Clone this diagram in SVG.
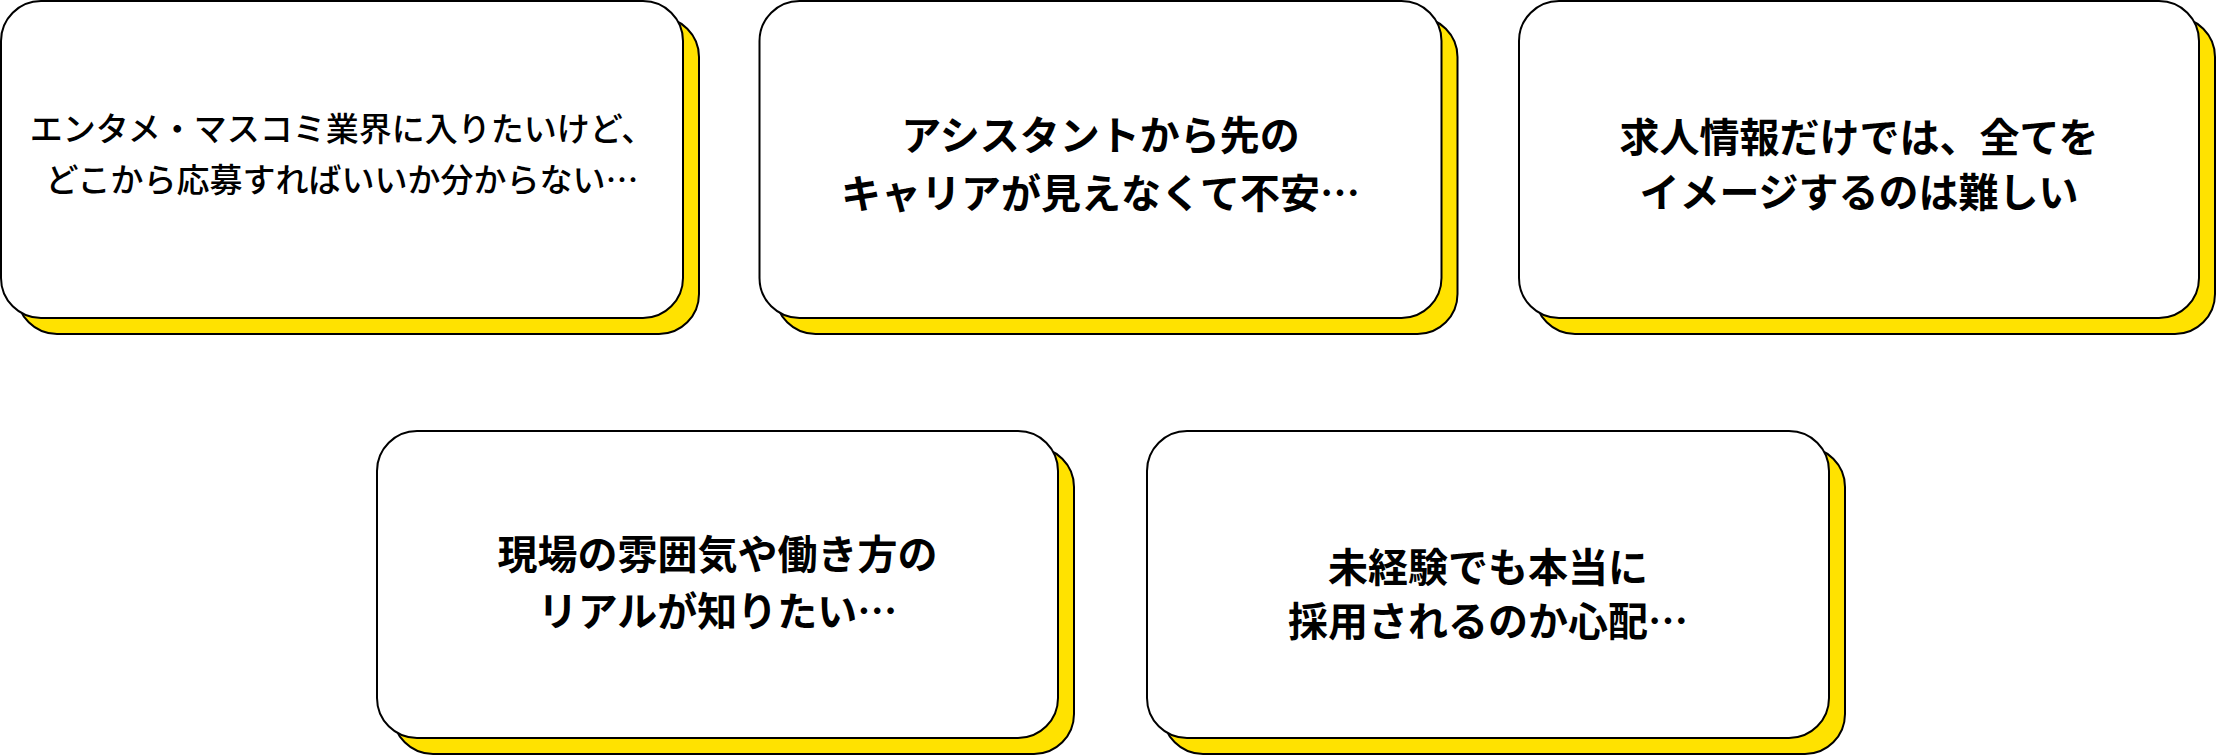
<svg xmlns="http://www.w3.org/2000/svg" width="2216" height="756" viewBox="0 0 2216 756">
  <style>
    .shadow { fill: #FFE200; stroke: #000; stroke-width: 2; }
    .card { fill: #fff; stroke: #000; stroke-width: 2; }
    .t { font-family: "Noto Sans CJK JP", "Noto Sans", sans-serif; font-size: 40px; font-weight: 700; fill: #000; text-anchor: middle; }
    .t1 { font-size: 33px; font-weight: 500; }
  </style>
  <rect width="2216" height="756" fill="#fff"/>
  <g id="connectors"></g>
  <g id="card1">
    <rect class="shadow" x="17" y="17" width="682" height="317" rx="40"/>
    <rect class="card" x="1" y="1" width="682" height="317" rx="40"/>
    <text class="t t1" x="342" y="141">エンタメ・マスコミ業界に入りたいけど、</text>
    <text class="t t1" x="342" y="192">どこから応募すればいいか分からない…</text>
  </g>
  <g id="card2">
    <rect class="shadow" x="775.5" y="17" width="682" height="317" rx="40"/>
    <rect class="card" x="759.5" y="1" width="682" height="317" rx="40"/>
    <text class="t" x="1100.5" y="150">アシスタントから先の</text>
    <text class="t" x="1100.5" y="208">キャリアが見えなくて不安…</text>
  </g>
  <g id="card3">
    <rect class="shadow" x="1535" y="17" width="680" height="317" rx="40"/>
    <rect class="card" x="1519" y="1" width="680" height="317" rx="40"/>
    <text class="t" x="1859" y="152">求人情報だけでは、全てを</text>
    <text class="t" x="1859" y="207">イメージするのは難しい</text>
  </g>
  <g id="card4">
    <rect class="shadow" x="393" y="447" width="681" height="307" rx="40"/>
    <rect class="card" x="377" y="431" width="681" height="307" rx="40"/>
    <text class="t" x="717.5" y="569">現場の雰囲気や働き方の</text>
    <text class="t" x="717.5" y="626">リアルが知りたい…</text>
  </g>
  <g id="card5">
    <rect class="shadow" x="1163" y="447" width="682" height="307" rx="40"/>
    <rect class="card" x="1147" y="431" width="682" height="307" rx="40"/>
    <text class="t" x="1488" y="582">未経験でも本当に</text>
    <text class="t" x="1488" y="636">採用されるのか心配…</text>
  </g>
</svg>
